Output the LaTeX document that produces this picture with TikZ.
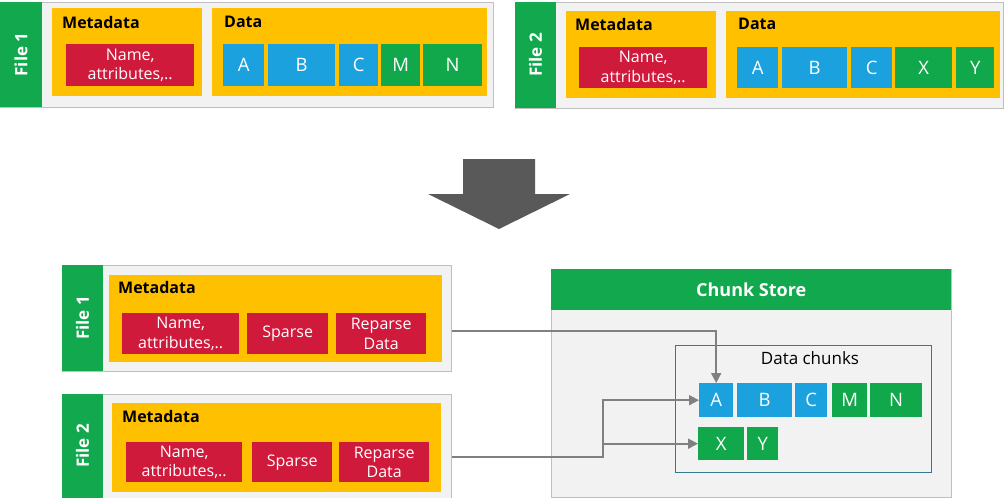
\documentclass[tikz,border=0pt]{standalone}
\usepackage{fontspec}
\setmainfont{Open Sans}
\usetikzlibrary{arrows.meta}

\definecolor{panelgray}{HTML}{F2F2F2}
\definecolor{bordergray}{HTML}{BFBFBF}
\definecolor{filegreen}{HTML}{12A84E}
\definecolor{metayellow}{HTML}{FFC000}
\definecolor{attrred}{HTML}{D01A3C}
\definecolor{chunkblue}{HTML}{1BA1DE}
\definecolor{chunkgreen}{HTML}{10A84A}
\definecolor{storeteal}{HTML}{2E7D8F}
\definecolor{linkgray}{HTML}{808080}
\definecolor{bigarrow}{HTML}{595959}

\begin{document}
\begin{tikzpicture}[x=1pt,y=-1pt,
    filebox/.style={draw=bordergray,fill=panelgray,line width=1,anchor=north west,inner sep=0},
    strip/.style={fill=filegreen,anchor=north west,inner sep=0},
    filelabel/.style={rotate=90,text=white,font=\fontsize{17}{19}\selectfont\bfseries},
    metabox/.style={fill=metayellow,anchor=north west,inner sep=0},
    metalabel/.style={anchor=west,inner sep=0,font=\fontsize{16}{18}\selectfont\bfseries},
    attrbox/.style={fill=attrred,text=white,anchor=north west,inner sep=0,align=center,
        font=\fontsize{16}{19.5}\selectfont},
    chunk/.style={text=white,anchor=north west,inner sep=0,font=\fontsize{18.5}{20}\selectfont},
    link/.style={draw=linkgray,line width=1.8,-{Triangle[length=10,width=10]}}]

    \useasboundingbox (0,0) rectangle (1005,498);

    % --- before: two files with their own data ---
    \node[filebox, minimum width=493, minimum height=105] (top1) at (0,2) {};
    \node[strip, minimum width=42, minimum height=105] (top1s) at (0,2) {};
    \node[filelabel] (top1l) at (21,54.5) {File 1};
    \node[metabox, minimum width=150, minimum height=88] (top1m) at (52,8) {};
    \node[metalabel] (top1ml) at (62,22) {Metadata};
    \node[attrbox, minimum width=128, minimum height=42] (top1a) at (66,44) {Name,\\attributes,..};
    \node[metabox, minimum width=275, minimum height=88] (top1d) at (212,8) {};
    \node[metalabel] (top1dl) at (224,22) {Data};
    \foreach \n/\xa/\xb/\c in {A/223/264/chunkblue, B/268/335/chunkblue, C/339/378/chunkblue,
                               M/381/420/chunkgreen, N/423/482/chunkgreen}
       \node[chunk, fill=\c, minimum width={\xb-\xa}, minimum height=42] (top1\n) at (\xa,44) {\n};

    \node[filebox, minimum width=488, minimum height=106] (top2) at (515,2) {};
    \node[strip, minimum width=41, minimum height=106] (top2s) at (515,2) {};
    \node[filelabel] (top2l) at (535.5,55) {File 2};
    \node[metabox, minimum width=150, minimum height=87] (top2m) at (566,11) {};
    \node[metalabel] (top2ml) at (575,24) {Metadata};
    \node[attrbox, minimum width=128, minimum height=41] (top2a) at (579,47) {Name,\\attributes,..};
    \node[metabox, minimum width=274, minimum height=87] (top2d) at (726,11) {};
    \node[metalabel] (top2dl) at (738,24) {Data};
    \foreach \n/\xa/\xb/\c in {A/737/778/chunkblue, B/782/847/chunkblue, C/851/892/chunkblue,
                               X/895/952/chunkgreen, Y/956/994/chunkgreen}
       \node[chunk, fill=\c, minimum width={\xb-\xa}, minimum height=41] (top2\n) at (\xa,47) {\n};

    % big arrow
    \fill[bigarrow] (463,159) -- (535,159) -- (535,194) -- (570,194) -- (499,229)
        -- (428,194) -- (463,194) -- cycle;

    % --- after: files keep metadata, data goes to the store ---
    \node[filebox, minimum width=389, minimum height=106] (f1) at (62,265) {};
    \node[strip, minimum width=41, minimum height=106] (f1s) at (62,265) {};
    \node[filelabel] (f1l) at (82.5,318) {File 1};
    \node[metabox, minimum width=333, minimum height=87] (f1m) at (109,275) {};
    \node[metalabel] (f1ml) at (118,287) {Metadata};
    \node[attrbox, minimum width=117, minimum height=41] (f1a) at (122,313) {Name,\\attributes,..};
    \node[attrbox, minimum width=81, minimum height=41] (f1b) at (247,313) {Sparse};
    \node[attrbox, minimum width=90, minimum height=41] (f1c) at (336,313) {Reparse\\Data};

    \node[filebox, minimum width=389, minimum height=106] (f2) at (62,394) {};
    \node[strip, minimum width=41, minimum height=106] (f2s) at (62,394) {};
    \node[filelabel] (f2l) at (82.5,446) {File 2};
    \node[metabox, minimum width=329, minimum height=89] (f2m) at (112,403) {};
    \node[metalabel] (f2ml) at (122,416) {Metadata};
    \node[attrbox, minimum width=116, minimum height=40] (f2a) at (126,442) {Name,\\attributes,..};
    \node[attrbox, minimum width=80, minimum height=40] (f2b) at (252,442) {Sparse};
    \node[attrbox, minimum width=90, minimum height=40] (f2c) at (339,442) {Reparse\\Data};

    % chunk store
    \node[filebox, minimum width=400, minimum height=228] (store) at (551,269) {};
    \node[strip, minimum width=400, minimum height=41, text=white,
          font=\fontsize{18}{20}\selectfont\bfseries] (storeh) at (551,269) {Chunk Store};
    \node[draw=storeteal, line width=1, anchor=north west, inner sep=0,
          minimum width=256, minimum height=127] (pool) at (675,345) {};
    \node[font=\fontsize{17}{19}\selectfont] (pooll) at (810,358) {Data chunks};
    \foreach \n/\xa/\xb/\c in {A/699/733/chunkblue, B/737/792/chunkblue, C/795/827/chunkblue,
                               M/832/867/chunkgreen, N/870/922/chunkgreen}
       \node[chunk, fill=\c, minimum width={\xb-\xa}, minimum height=34] (c\n) at (\xa,383) {\n};
    \foreach \n/\xa/\xb/\c in {X/698/744/chunkgreen, Y/747/778/chunkgreen}
       \node[chunk, fill=\c, minimum width={\xb-\xa}, minimum height=33] (c\n) at (\xa,427) {\n};

    % links
    \draw[link] (f1.east |- 0,331) -| (cA.north);
    \coordinate (turn) at (603,457);
    \draw[link] (f2.east |- turn) -- (turn) |- (cA.west);
    \draw[link] (turn) |- (cX.west);

\end{tikzpicture}
\end{document}
